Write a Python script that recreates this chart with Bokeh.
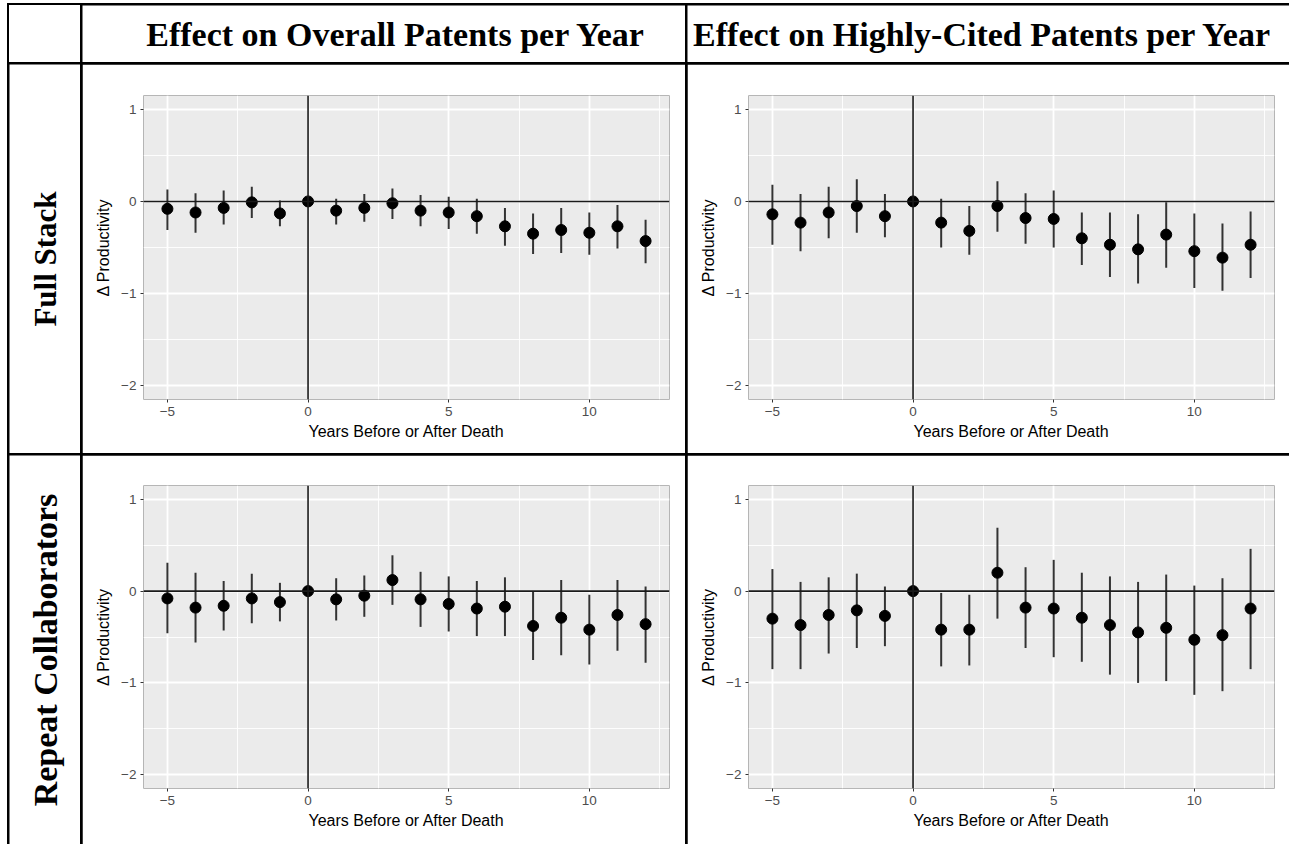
import numpy as np
from bokeh.plotting import figure
from bokeh.models import ColumnDataSource, Range1d, FixedTicker, Span, Div, GridBox
from bokeh.embed import file_html
from bokeh.resources import INLINE
from bokeh.core.properties import value

# ---------------- data ----------------
years = list(range(-5, 13))

col_titles = ["Effect on Overall Patents per Year", "Effect on Highly-Cited Patents per Year"]
row_titles = ["Full Stack", "Repeat Collaborators"]
x_title = "Years Before or After Death"
y_title = "\u0394 Productivity"
x_ticks = [-5, 0, 5, 10]
x_minor = [-2.5, 2.5, 7.5, 12.5]
y_ticks = [-2, -1, 0, 1]
y_minor = [-1.5, -0.5, 0.5]

# Full stack, overall patents
fs_all_est = [-0.08, -0.12, -0.07, -0.01, -0.13, 0.0, -0.10, -0.07, -0.02, -0.10, -0.12, -0.16, -0.27, -0.35, -0.31, -0.34, -0.27, -0.43]
fs_all_lo = [-0.31, -0.34, -0.25, -0.18, -0.27, 0.0, -0.25, -0.22, -0.19, -0.27, -0.30, -0.35, -0.48, -0.57, -0.56, -0.58, -0.51, -0.67]
fs_all_hi = [0.13, 0.09, 0.12, 0.16, 0.01, 0.0, 0.03, 0.08, 0.14, 0.07, 0.05, 0.03, -0.07, -0.13, -0.07, -0.12, -0.04, -0.20]

# Full stack, highly-cited patents
fs_hc_est = [-0.14, -0.23, -0.12, -0.05, -0.16, 0.0, -0.23, -0.32, -0.05, -0.18, -0.19, -0.40, -0.47, -0.52, -0.36, -0.54, -0.61, -0.47]
fs_hc_lo = [-0.47, -0.54, -0.40, -0.34, -0.39, 0.0, -0.50, -0.58, -0.33, -0.46, -0.50, -0.69, -0.82, -0.89, -0.72, -0.94, -0.97, -0.83]
fs_hc_hi = [0.18, 0.08, 0.16, 0.24, 0.08, 0.0, 0.03, -0.05, 0.22, 0.09, 0.12, -0.12, -0.12, -0.14, -0.01, -0.13, -0.24, -0.11]

# Repeat collaborators, overall patents
rc_all_est = [-0.08, -0.18, -0.16, -0.08, -0.12, 0.0, -0.09, -0.05, 0.12, -0.09, -0.14, -0.19, -0.17, -0.38, -0.29, -0.42, -0.26, -0.36]
rc_all_lo = [-0.46, -0.56, -0.43, -0.35, -0.33, 0.0, -0.32, -0.28, -0.15, -0.39, -0.44, -0.49, -0.49, -0.75, -0.70, -0.80, -0.65, -0.78]
rc_all_hi = [0.31, 0.20, 0.11, 0.19, 0.09, 0.0, 0.14, 0.17, 0.39, 0.21, 0.16, 0.11, 0.15, 0.0, 0.12, -0.04, 0.12, 0.05]

# Repeat collaborators, highly-cited patents
rc_hc_est = [-0.30, -0.37, -0.26, -0.21, -0.27, 0.0, -0.42, -0.42, 0.20, -0.18, -0.19, -0.29, -0.37, -0.45, -0.40, -0.53, -0.48, -0.19]
rc_hc_lo = [-0.85, -0.85, -0.68, -0.62, -0.60, 0.0, -0.82, -0.81, -0.30, -0.62, -0.72, -0.77, -0.91, -1.00, -0.98, -1.13, -1.09, -0.85]
rc_hc_hi = [0.24, 0.10, 0.15, 0.19, 0.05, 0.0, -0.02, -0.04, 0.69, 0.26, 0.34, 0.20, 0.16, 0.10, 0.18, 0.06, 0.14, 0.46]

# ---------------- layout sizes ----------------
COL1_W = 71
COL2_W = 603
COL3_W = 602
HEAD_H = 57
ROW1_H = 389
ROW2_H = 389

SERIF = "Liberation Serif"
SANS = "Liberation Sans"


def panel(est, lo, hi, w, h, top, bottom, right):
    src = ColumnDataSource(dict(x=years, est=est, lo=lo, hi=hi))
    p = figure(width=w, height=h, output_backend="svg", toolbar_location=None, tools="",
               x_range=Range1d(-5.85, 12.85), y_range=Range1d(-2.15, 1.15),
               min_border_left=61, min_border_right=right, min_border_top=top,
               min_border_bottom=bottom, frame_align=False,
               background_fill_color="#EBEBEB", border_fill_color="white",
               outline_line_color=None)
    p.xaxis.ticker = FixedTicker(ticks=x_ticks, minor_ticks=x_minor)
    p.yaxis.ticker = FixedTicker(ticks=y_ticks, minor_ticks=y_minor)
    for ax in (p.xaxis, p.yaxis):
        ax.axis_line_color = None
        ax.major_tick_line_color = "#333333"
        ax.major_tick_in = 0
        ax.major_tick_out = 3
        ax.minor_tick_line_color = None
        ax.major_label_text_font = SANS
        ax.major_label_text_font_size = "13.5px"
        ax.major_label_text_color = "#4D4D4D"
        ax.major_label_standoff = 3
        ax.axis_label_text_font = SANS
        ax.axis_label_text_font_size = "16px"
        ax.axis_label_text_font_style = "normal"
        ax.axis_label_text_color = "black"
    p.xaxis.axis_label = x_title
    p.yaxis.axis_label = y_title
    p.xaxis.axis_label_standoff = 4
    p.yaxis.axis_label_standoff = 6
    for g in (p.xgrid, p.ygrid):
        g.grid_line_color = "white"
        g.grid_line_width = 1.8
        g.minor_grid_line_color = "white"
        g.minor_grid_line_width = 0.9
    p.add_layout(Span(location=0, dimension="width", line_color="#1a1a1a", line_width=1.6))
    p.add_layout(Span(location=0, dimension="height", line_color="#1a1a1a", line_width=1.6))
    p.segment(x0="x", y0="lo", x1="x", y1="hi", source=src, line_color="#333333", line_width=2)
    p.scatter("x", "est", source=src, size=11, color="black")
    return p


def text_cell(txt, w, h, size, angle=0.0, dx=0):
    p = figure(width=w, height=h, output_backend="svg", toolbar_location=None, tools="",
               x_range=Range1d(0, w), y_range=Range1d(0, h), min_border=0,
               x_axis_location=None, y_axis_location=None, frame_align=False,
               background_fill_color="white", border_fill_color="white",
               outline_line_color=None)
    p.grid.visible = False
    p.text(x=[w / 2 + dx], y=[h / 2], text=[txt], angle=angle, text_font=value(SERIF),
           text_font_style="bold", text_font_size=size, text_align="center",
           text_baseline="middle", text_color="black")
    return p


corner = Div(text="", width=COL1_W, height=HEAD_H, margin=0,
             styles={"background-color": "white"})
h1 = text_cell(col_titles[0], COL2_W, HEAD_H, "34px", dx=12)
h2 = text_cell(col_titles[1], COL3_W, HEAD_H, "34px", dx=-6)
r1 = text_cell(row_titles[0], COL1_W, ROW1_H, "31px", angle=np.pi / 2)
r2 = text_cell(row_titles[1], COL1_W, ROW2_H, "34px", angle=np.pi / 2)

p11 = panel(fs_all_est, fs_all_lo, fs_all_hi, COL2_W, ROW1_H, 31, 54, 16)
p12 = panel(fs_hc_est, fs_hc_lo, fs_hc_hi, COL3_W, ROW1_H, 31, 54, 15)
p21 = panel(rc_all_est, rc_all_lo, rc_all_hi, COL2_W, ROW2_H, 30, 56, 16)
p22 = panel(rc_hc_est, rc_hc_lo, rc_hc_hi, COL3_W, ROW2_H, 30, 56, 15)

grid = GridBox(children=[(corner, 0, 0), (h1, 0, 1), (h2, 0, 2),
                         (r1, 1, 0), (p11, 1, 1), (p12, 1, 2),
                         (r2, 2, 0), (p21, 2, 1), (p22, 2, 2)],
               spacing=2,
               styles={"background-color": "black", "padding-top": "2px", "padding-left": "2px"},
               margin=(3, 0, 0, 7))

open("out.html", "w").write(file_html(grid, INLINE))
